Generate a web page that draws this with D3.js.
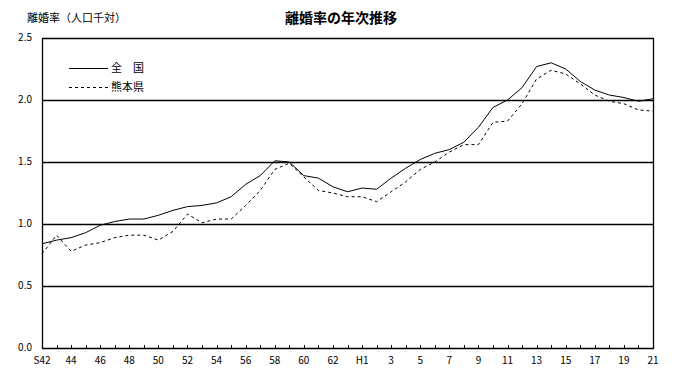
<!DOCTYPE html>
<html>
<head>
<meta charset="utf-8">
<script src="https://cdn.jsdelivr.net/npm/d3@7"></script>
<style>
  body { margin: 0; background: #fff; }
  svg text { font-family: "Noto Sans CJK JP", "DejaVu Sans", sans-serif; fill: #000; }
</style>
</head>
<body>
<svg id="chart" width="677" height="375"></svg>
<script>
// year labels, Showa 42 .. Heisei 21
var years = ["S42","43","44","45","46","47","48","49","50","51","52","53","54","55","56","57",
             "58","59","60","61","62","63","H1","2","3","4","5","6","7","8","9","10","11","12",
             "13","14","15","16","17","18","19","20","21"];

// divorce rate per 1000 population - whole country
var zenkoku = [0.84,0.87,0.89,0.93,0.99,1.02,1.04,1.04,1.07,1.11,1.14,1.15,1.17,1.22,1.32,1.39,
               1.51,1.50,1.39,1.37,1.30,1.26,1.29,1.28,1.37,1.45,1.52,1.57,1.60,1.66,1.78,1.94,
               2.00,2.10,2.27,2.30,2.25,2.15,2.08,2.04,2.02,1.99,2.01];

// divorce rate per 1000 population - Kumamoto
var kumamoto = [0.76,0.91,0.78,0.83,0.85,0.89,0.91,0.91,0.87,0.94,1.08,1.01,1.04,1.04,1.15,1.27,
                1.44,1.49,1.38,1.27,1.25,1.22,1.22,1.18,1.26,1.34,1.44,1.50,1.58,1.64,1.64,1.82,
                1.83,1.97,2.17,2.24,2.21,2.13,2.04,1.99,1.97,1.92,1.91];

var yTicks = [0, 0.5, 1.0, 1.5, 2.0, 2.5];

var legendItems = [{label: "全\u3000国", dash: null, data: zenkoku},
                   {label: "熊本県",    dash: "3,3", data: kumamoto}];

var svg = d3.select("#chart");
// plot box (note: "top" is a reserved window global, so use other names)
var pLeft = 42, pRight = 653, pTop = 38, pBottom = 348;

var x = d3.scaleLinear().domain([0, years.length - 1]).range([pLeft, pRight]);
var y = d3.scaleLinear().domain([0, 2.5]).range([pBottom, pTop]);

// titles
svg.append("text").attr("x", 27).attr("y", 22)
    .style("font-size", "11px").text("離婚率（人口千対）");
svg.append("text").attr("x", 341).attr("y", 23).attr("text-anchor", "middle")
    .style("font-size", "14px").style("font-weight", "bold").text("離婚率の年次推移");

// horizontal gridlines + frame
svg.selectAll(".grid").data(yTicks).enter().append("line")
    .attr("x1", pLeft).attr("x2", pRight + 1)
    .attr("y1", function(d){ return Math.round(y(d)) + 0.5 })
    .attr("y2", function(d){ return Math.round(y(d)) + 0.5 })
    .attr("stroke", "#000").attr("stroke-width", 1.3);

svg.append("line").attr("x1", pLeft + 0.5).attr("x2", pLeft + 0.5).attr("y1", pTop).attr("y2", pBottom + 1)
    .attr("stroke", "#000").attr("stroke-width", 1.3);
svg.append("line").attr("x1", pRight + 0.5).attr("x2", pRight + 0.5).attr("y1", pTop).attr("y2", pBottom + 1)
    .attr("stroke", "#000").attr("stroke-width", 1.3);

// small year ticks pointing up from the x axis
svg.selectAll(".xtick").data(years).enter().append("line")
    .attr("x1", function(d,i){ return Math.round(x(i)) + 0.5 })
    .attr("x2", function(d,i){ return Math.round(x(i)) + 0.5 })
    .attr("y1", pBottom).attr("y2", pBottom - 3)
    .attr("stroke", "#000");

// y labels
svg.selectAll(".ylab").data(yTicks).enter().append("text")
    .attr("x", 32).attr("y", function(d){ return y(d) + 3 })
    .attr("text-anchor", "end").style("font-size", "10px")
    .text(function(d){ return d3.format(".1f")(d) });

// x labels, every second year
svg.selectAll(".xlab").data(years).enter()
    .filter(function(d,i){ return i % 2 == 0 })
    .append("text")
    .attr("x", function(d){ return x(years.indexOf(d)) })
    .attr("y", 364).attr("text-anchor", "middle").style("font-size", "10px")
    .text(function(d){ return d });

// series lines
var line = d3.line().x(function(d,i){ return x(i) }).y(function(d){ return y(d) });
legendItems.forEach(function(s){
    svg.append("path").attr("d", line(s.data))
        .attr("fill", "none").attr("stroke", "#000").attr("stroke-width", 1)
        .attr("stroke-dasharray", s.dash);
});

// legend
legendItems.forEach(function(s, i){
    var ly = 68 + i * 19;
    svg.append("line").attr("x1", 69).attr("x2", 108).attr("y1", ly + 0.5).attr("y2", ly + 0.5)
        .attr("stroke", "#000").attr("stroke-dasharray", s.dash);
    svg.append("text").attr("x", 111).attr("y", ly + 4).style("font-size", "11px").text(s.label);
});
</script>
</body>
</html>
